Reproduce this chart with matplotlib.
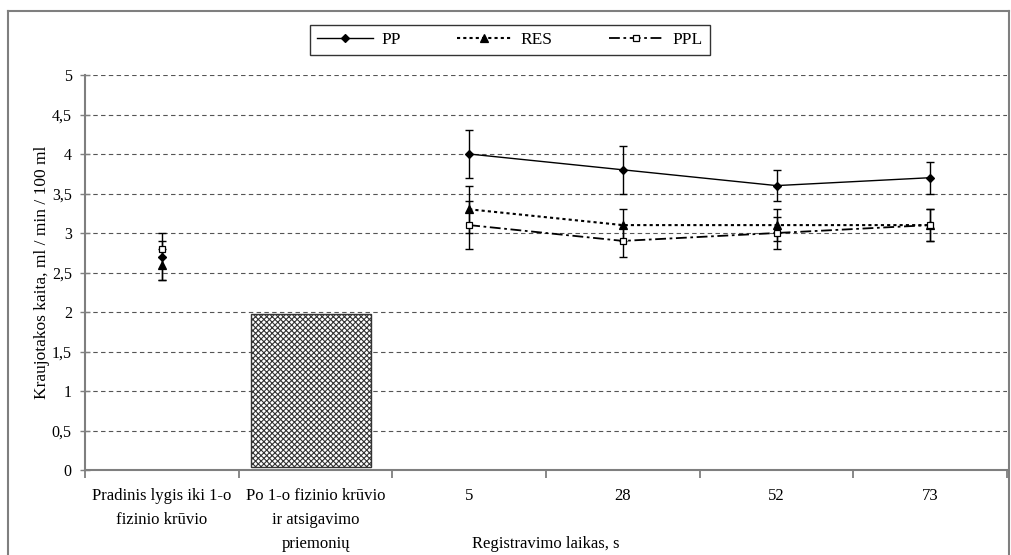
import matplotlib
matplotlib.use("Agg")
import matplotlib.pyplot as plt
from matplotlib.lines import Line2D
import numpy as np

plt.rcParams['font.family'] = ['Liberation Serif', 'DejaVu Serif']
plt.rcParams['hatch.color'] = '#666666'
plt.rcParams['hatch.linewidth'] = 0.8

# categories on the x axis
categories = ['Pradinis lygis iki 1-o\nfizinio krūvio',
              'Po 1-o fizinio krūvio\nir atsigavimo\npriemonių',
              '5', '28', '52', '73']

# series (nan = no point in that category)
pp = [2.7, np.nan, 4.0, 3.8, 3.6, 3.7]
pp_err = [0.3, 0, 0.3, 0.3, 0.2, 0.2]
res = [2.6, np.nan, 3.3, 3.1, 3.1, 3.1]
res_err = [0.2, 0, 0.3, 0.2, 0.2, 0.2]
ppl = [2.8, np.nan, 3.1, 2.9, 3.0, 3.1]
ppl_err = [0.1, 0, 0.3, 0.2, 0.2, 0.2]

# the hatched block over the second category
block_bottom = 0.04
block_top = 1.97

yticks = [0, 0.5, 1, 1.5, 2, 2.5, 3, 3.5, 4, 4.5, 5]
ytick_labels = ['0', '0,5', '1', '1,5', '2', '2,5', '3', '3,5', '4', '4,5', '5']

W, H = 1011, 555
fig = plt.figure(figsize=(W / 100, H / 100), dpi=100)
ax = fig.add_axes([85 / W, 1 - 470 / H, 922 / W, 395 / H])

x = np.arange(len(categories))

# outer frame
frame_col = '#7f7f7f'
fig.add_artist(Line2D([8 / W, 8 / W], [-0.1, 1 - 11 / H], color=frame_col, lw=1.5, transform=fig.transFigure))
fig.add_artist(Line2D([8 / W, 1009 / W], [1 - 11 / H, 1 - 11 / H], color=frame_col, lw=1.5, transform=fig.transFigure))
fig.add_artist(Line2D([1009 / W, 1009 / W], [-0.1, 1 - 11 / H], color=frame_col, lw=1.5, transform=fig.transFigure))

# grid
for yv in yticks[1:]:
    ax.axhline(yv, color='#555555', lw=0.8, ls=(0, (4, 3)), zorder=0)

ax.bar(x[1] - 0.03, block_top - block_bottom, bottom=block_bottom, width=0.78,
       facecolor='white', edgecolor='#333333', hatch='xxxxxx', lw=1.0, zorder=2)

def draw(vals, errs, ls, marker, mfc, ms, lw, label):
    vals = np.array(vals, dtype=float)
    errs = np.array(errs, dtype=float)
    ok = ~np.isnan(vals)
    ax.errorbar(x[ok], vals[ok], yerr=errs[ok], fmt='none', ecolor='black',
                elinewidth=1.0, capsize=3, capthick=1.0, zorder=3)
    ax.plot(x, vals, color='black', ls=ls, lw=lw, marker=marker, mfc=mfc,
            mec='black', ms=ms, mew=0.9, zorder=4, label=label)

draw(pp, pp_err, '-', 'D', 'black', 4.5, 1.0, 'PP')
draw(res, res_err, (0, (1.5, 1.5)), '^', 'black', 6, 1.5, 'RES')
draw(ppl, ppl_err, (0, (6, 2, 1.5, 2)), 's', 'white', 5, 1.3, 'PPL')

ax.set_xlim(-0.5, len(categories) - 0.5)
ax.set_ylim(0, 5)
ax.set_yticks(yticks)
ax.set_yticklabels(ytick_labels, fontsize=11.5)
ax.set_xticks(x)
ax.set_xticklabels(categories, fontsize=12, linespacing=1.68)
ax.set_xticks(np.arange(len(categories) + 1) - 0.5, minor=True)
ax.tick_params(axis='x', which='major', length=0, pad=13)
ax.tick_params(axis='x', which='minor', length=6, width=1.3, color=frame_col, direction='out')
ax.tick_params(axis='y', length=7, width=1.0, color=frame_col, direction='inout', pad=6)

for s in ['top', 'right']:
    ax.spines[s].set_visible(False)
for s in ['left', 'bottom']:
    ax.spines[s].set_color(frame_col)
    ax.spines[s].set_linewidth(1.5)

ax.set_ylabel('Kraujotakos kaita, ml / min / 100 ml', fontsize=12.5, labelpad=1)
ax.set_xlabel('Registravimo laikas, s', fontsize=12)
ax.xaxis.set_label_coords(0.5, (470 - 536) / 395)

leg = ax.legend(loc='center', ncol=3, bbox_to_anchor=(310 / W, 1 - 57 / H, 400 / W, 34 / H),
                bbox_transform=fig.transFigure, mode='expand', fontsize=12.5,
                frameon=True, fancybox=False, handlelength=3.2, borderaxespad=0,
                columnspacing=3.0, handletextpad=0.5)
leg.get_frame().set_edgecolor('black')
leg.get_frame().set_linewidth(1.0)

fig.savefig('out.png', dpi=100)
